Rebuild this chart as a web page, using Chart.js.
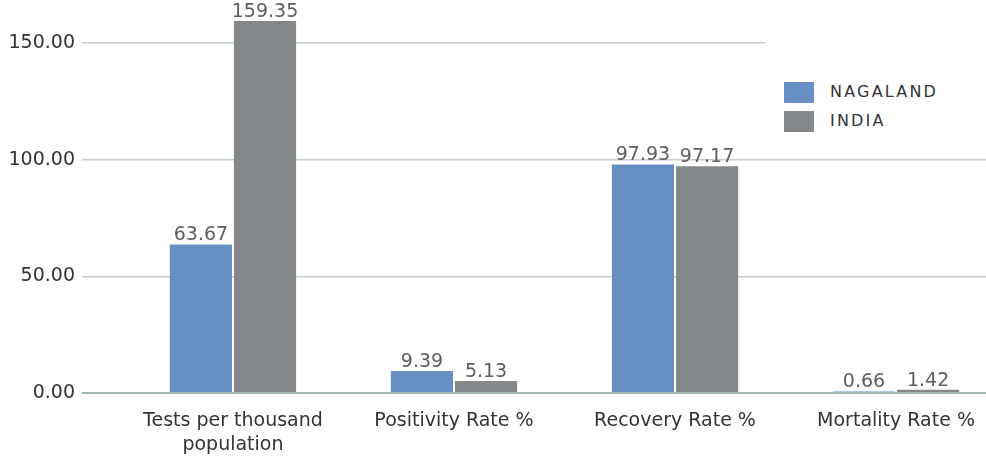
<!DOCTYPE html>
<html lang="en">
<head>
  <meta charset="UTF-8">
  <title>Nagaland vs India - COVID indicators</title>
  <script src="https://cdn.jsdelivr.net/npm/chart.js"></script>
  <style>
    body { margin: 0; padding: 0; background: white; overflow: hidden; }
    .wrap { position: relative; width: 986px; height: 456px; }
    .legend { position: absolute; left: 765px; top: 30px; width: 221px; height: 118px; background: white; font-family: "DejaVu Sans", sans-serif; }
    .legend div { position: absolute; left: 19px; height: 21px; }
    .legend span.box { position: absolute; left: 0; top: 0; width: 30px; height: 21px; }
    .legend span.txt { position: absolute; left: 46px; top: 0px; font-size: 16px; letter-spacing: 2.2px; color: #333; white-space: nowrap; }
  </style>
</head>
<body>
  <div class="wrap">
    <canvas id="chart" width="986" height="456"></canvas>
    <div class="legend" id="legend"></div>
  </div>

  <script>
    const categories = [['Tests per thousand', 'population'], 'Positivity Rate %', 'Recovery Rate %', 'Mortality Rate %'];
    const nagaland = [63.67, 9.39, 97.93, 0.66];
    const india = [159.35, 5.13, 97.17, 1.42];
    const seriesNames = ['NAGALAND', 'INDIA'];
    const seriesColors = ['#678fc4', '#84888a'];
    const yTicks = [0, 50, 100, 150];

    const font = "DejaVu Sans";

    // labels above the bars
    const valueLabels = {
      id: 'valueLabels',
      afterDatasetsDraw(chart) {
        const c = chart.ctx;
        c.save();
        c.font = '19px "' + font + '"';
        c.fillStyle = '#5e5e5e';
        c.textAlign = 'center';
        c.textBaseline = 'alphabetic';
        chart.data.datasets.forEach((ds, i) => {
          chart.getDatasetMeta(i).data.forEach((bar, j) => {
            c.fillText(ds.data[j].y.toFixed(2), bar.x, bar.y - 4);
          });
        });
        c.restore();
      }
    };

    const ctx = document.getElementById('chart').getContext('2d');
    const chart = new Chart(ctx, {
      type: 'bar',
      data: {
        datasets: [
          { label: seriesNames[0], data: nagaland.map((v, i) => ({ x: i, y: v })), backgroundColor: seriesColors[0] },
          { label: seriesNames[1], data: india.map((v, i) => ({ x: i, y: v })), backgroundColor: seriesColors[1] }
        ]
      },
      options: {
        responsive: false,
        animation: false,
        layout: { padding: { top: 0, right: 0, bottom: 0, left: 0 } },
        datasets: { bar: { categoryPercentage: 0.58, barPercentage: 0.97 } },
        plugins: { legend: { display: false }, tooltip: { enabled: false } },
        scales: {
          x: {
            type: 'linear',
            offset: false,
            min: -0.683,
            max: 3.407,
            grid: { display: false },
            border: { display: false },
            afterBuildTicks: s => { s.ticks = categories.map((_, i) => ({ value: i })); },
            afterFit: s => { s.height = 63; },
            ticks: {
              autoSkip: false,
              maxRotation: 0,
              padding: 8,
              color: '#333',
              font: { family: font, size: 19, lineHeight: 1.25 },
              callback: v => categories[v]
            }
          },
          y: {
            min: 0,
            max: 160.5,
            afterBuildTicks: s => { s.ticks = yTicks.map(v => ({ value: v })); },
            afterFit: s => { s.width = 82; },
            grid: {
              drawTicks: false,
              color: c => c.tick.value === 0 ? '#9fb8b6' : '#c3cfcf',
              lineWidth: c => c.tick.value === 0 ? 2 : 1.6
            },
            border: { display: false },
            ticks: {
              padding: 7,
              color: '#333',
              font: { family: font, size: 19 },
              callback: v => v.toFixed(2)
            }
          }
        }
      },
      plugins: [valueLabels]
    });

    // legend
    const legend = document.getElementById('legend');
    seriesNames.forEach((name, i) => {
      const row = document.createElement('div');
      row.style.top = (52 + i * 29) + 'px';
      row.innerHTML = '<span class="box" style="background:' + seriesColors[i] + '"></span><span class="txt">' + name + '</span>';
      legend.appendChild(row);
    });
  </script>
</body>
</html>
